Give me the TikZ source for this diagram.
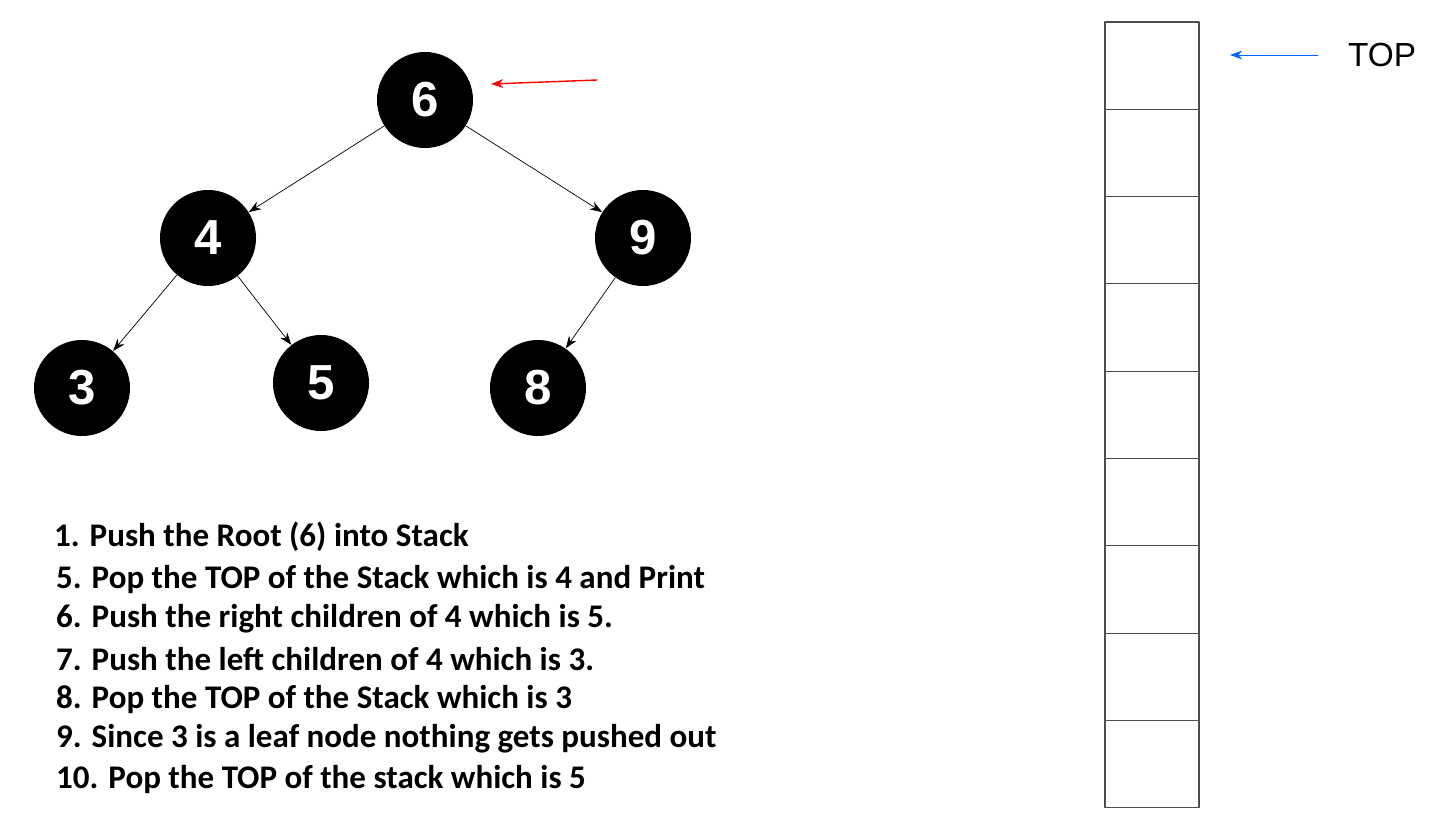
\documentclass[tikz,border=0pt]{standalone}
\usepackage{fontspec}
\setmainfont{Carlito}
\newfontfamily\digitfont{Liberation Sans}
\usetikzlibrary{arrows.meta}
\tikzset{
  treenode/.style={circle, fill=black, minimum size=96*0.02cm, inner sep=0pt,
    text=white, font=\digitfont\bfseries\fontsize{28}{28}\selectfont},
  edge/.style={-{Stealth[length=7pt,width=5pt]}, thin},
  stepline/.style={anchor=west, font=\bfseries\fontsize{18.8}{18.8}\selectfont}
}
\begin{document}
\begin{tikzpicture}[line cap=round, line join=round, x=0.02cm, y=-0.02cm]
            \useasboundingbox (0,0) rectangle (1447,825);

            % tree
            \node[treenode] (n6) at (425,100) {6};
            \node[treenode] (n4) at (208,238) {4};
            \node[treenode] (n9) at (643,238) {9};
            \node[treenode] (n3) at (82,388) {3};
            \node[treenode] (n5) at (321,383) {5};
            \node[treenode] (n8) at (538,388) {8};

            \draw[edge] (n6) -- (n4);
            \draw[edge] (n6) -- (n9);
            \draw[edge] (n4) -- (n3);
            \draw[edge] (n4) -- (n5);
            \draw[edge] (n9) -- (n8);

            \coordinate (redtail) at (597,80);
            \draw[edge, red, thick] (redtail) -- (491,84);

            % stack
            \foreach \i in {0,...,8}
                \draw[black!70, semithick] (1105,{22+87.3*\i}) rectangle (1199,{22+87.3*(\i+1)});

            \node[anchor=center, font=\digitfont\fontsize{19}{19}\selectfont] (top) at (1382,55) {TOP};
            \coordinate (bluetail) at (1318,55);
            \draw[edge, blue!60!cyan] (bluetail) -- (1230,55);

            % steps
            \node[stepline] (s1) at (48,537) {1. Push the Root (6) into Stack};
            \node[stepline] (s5) at (50,579) {5. Pop the TOP of the Stack which is 4 and Print};
            \node[stepline] (s6) at (50,619) {6. Push the right children of 4 which is 5.};
            \node[stepline] (s7) at (50,659) {7. Push the left children of 4 which is 3.};
            \node[stepline] (s8) at (50,699) {8. Pop the TOP of the Stack which is 3};
            \node[stepline] (s9) at (50,739) {9. Since 3 is a leaf node nothing gets pushed out};
            \node[stepline] (s10) at (50,779) {10. Pop the TOP of the stack which is 5};

\end{tikzpicture}
\end{document}
